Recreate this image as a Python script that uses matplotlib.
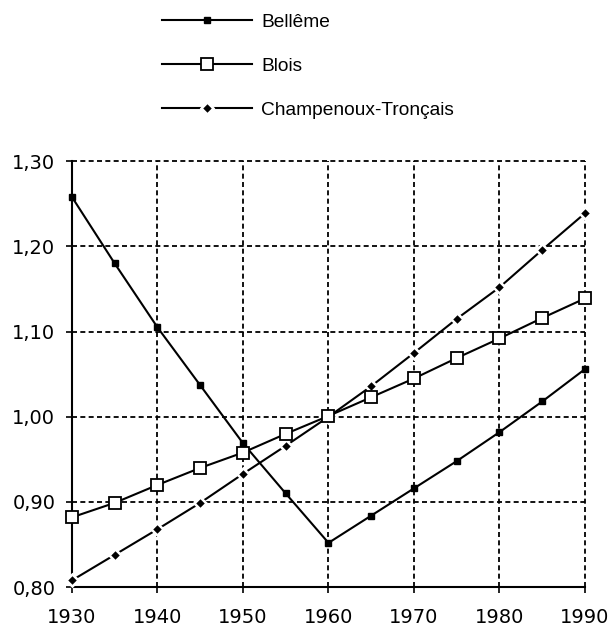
import matplotlib
matplotlib.use("Agg")
import matplotlib.pyplot as plt

# donnees
annees = [1930, 1935, 1940, 1945, 1950, 1955, 1960, 1965, 1970, 1975, 1980, 1985, 1990]
belleme = [1.258, 1.180, 1.105, 1.037, 0.969, 0.910, 0.852, 0.884, 0.916, 0.948, 0.982, 1.018, 1.056]
blois = [0.882, 0.899, 0.920, 0.940, 0.958, 0.980, 1.001, 1.023, 1.045, 1.069, 1.092, 1.116, 1.139]
champenoux = [0.808, 0.838, 0.868, 0.899, 0.933, 0.966, 1.000, 1.036, 1.075, 1.115, 1.152, 1.196, 1.239]

x_ticks = [1930, 1940, 1950, 1960, 1970, 1980, 1990]
y_ticks = [0.80, 0.90, 1.00, 1.10, 1.20, 1.30]
y_labels = ["0,80", "0,90", "1,00", "1,10", "1,20", "1,30"]

plt.rcParams['font.family'] = ['Liberation Sans', 'DejaVu Sans']
plt.rcParams['lines.scale_dashes'] = False

fig = plt.figure(figsize=(6.1, 6.3), dpi=100)
ax = fig.add_axes([0.118, 0.068, 0.841, 0.676])

l1, = ax.plot(annees, belleme, color='black', lw=1.5, marker='s', ms=5,
              mfc='black', mec='black', clip_on=False, zorder=3)
# petit losange noir entoure de blanc -> coupure de la ligne autour du point
l3, = ax.plot(annees, champenoux, color='black', lw=1.5, marker='D', ms=6,
              mfc='black', mec='white', mew=1.8, clip_on=False, zorder=3)
l2, = ax.plot(annees, blois, color='black', lw=1.5, marker='s', ms=9,
              mfc='white', mec='black', mew=1.3, clip_on=False, zorder=4)

ax.set_xlim(1930, 1990)
ax.set_ylim(0.80, 1.30)
ax.set_xticks(x_ticks)
ax.set_yticks(y_ticks)
ax.set_yticklabels(y_labels)
ax.grid(True, color='black', lw=1.3, dashes=(3.6, 2.4))
ax.set_axisbelow(True)
for g in ax.get_xgridlines() + ax.get_ygridlines():
    g.set_clip_on(False)

for s in ['top', 'right']:
    ax.spines[s].set_visible(False)
for s in ['left', 'bottom']:
    ax.spines[s].set_linewidth(1.5)

ax.tick_params(direction='out', length=4, width=1.2, labelsize=14)
ax.tick_params(axis='x', pad=11)
ax.tick_params(axis='y', pad=8)
for lab in ax.get_xticklabels() + ax.get_yticklabels():
    lab.set_family(['DejaVu Sans'])

fig.legend([l1, l2, l3], ['Bellême', 'Blois', 'Champenoux-Tronçais'],
           loc='upper left', bbox_to_anchor=(0.237, 1.006), frameon=False,
           fontsize=13.8, handlelength=4.7, labelspacing=1.38, numpoints=1,
           handletextpad=0.5)

fig.savefig('out.png', dpi=100)
